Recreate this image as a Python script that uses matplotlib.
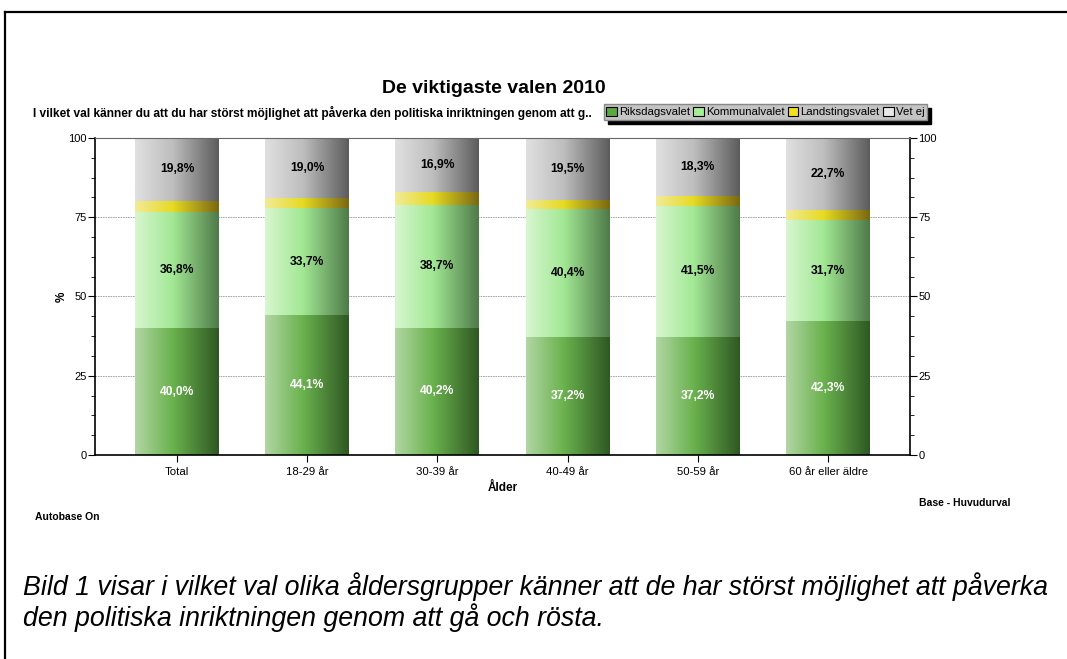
import numpy as np
import matplotlib.pyplot as plt
from matplotlib.colors import LinearSegmentedColormap
from matplotlib.patches import Patch
from matplotlib.lines import Line2D
from matplotlib.ticker import MultipleLocator

plt.rcParams['font.family'] = ['Liberation Sans', 'DejaVu Sans']

# data
categories = ['Total', '18-29 år', '30-39 år', '40-49 år', '50-59 år', '60 år eller äldre']
riksdag = [40.0, 44.1, 40.2, 37.2, 37.2, 42.3]
kommun = [36.8, 33.7, 38.7, 40.4, 41.5, 31.7]
landsting = [3.4, 3.2, 4.2, 2.9, 3.0, 3.3]
vet_ej = [19.8, 19.0, 16.9, 19.5, 18.3, 22.7]

series = [
    ('Riksdagsvalet', riksdag, ['#b2d6a4', '#6ab24e', '#2f5823'], '#5aa83e', 'white', True),
    ('Kommunalvalet', kommun, ['#d8f6d0', '#a2e894', '#4e7a48'], '#a6ee98', 'black', True),
    ('Landstingsvalet', landsting, ['#f2eb98', '#e6da22', '#7a6812'], '#f0e020', 'black', False),
    ('Vet ej', vet_ej, ['#e0e0e0', '#bebebe', '#5c5c5c'], '#e8e8e8', 'black', True),
]

fig = plt.figure(figsize=(10.67, 6.59), dpi=100)
ax = fig.add_axes([0.089, 0.3096, 0.764, 0.481])

x = np.arange(len(categories))
width = 0.645
bottom = np.zeros(len(categories))
grad = np.linspace(0, 1, 256).reshape(1, -1)

for name, vals, stops, legcol, txtcol, show in series:
    vals = np.array(vals)
    bars = ax.bar(x, vals, width, bottom=bottom, color='none', edgecolor='none', zorder=2)
    cmap = LinearSegmentedColormap.from_list(name, [(0, stops[0]), (0.45, stops[1]), (1, stops[2])])
    for b, v in zip(bars, vals):
        x0, y0 = b.get_x(), b.get_y()
        ax.imshow(grad, cmap=cmap, aspect='auto', zorder=2,
                  extent=(x0, x0 + b.get_width(), y0, y0 + b.get_height()))
        if show:
            ax.text(x0 + b.get_width() / 2, y0 + b.get_height() / 2, f'{v:.1f}%'.replace('.', ','),
                    ha='center', va='center', fontsize=8.7, fontweight='bold', color=txtcol, zorder=3)
    bottom += vals

ax.set_xlim(-0.63, len(categories) - 1 + 0.63)
ax.set_ylim(0, 100)
ax.set_xticks(x)
ax.set_xticklabels(categories, fontsize=8.2)
ax.yaxis.set_major_locator(MultipleLocator(25))
ax.yaxis.set_minor_locator(MultipleLocator(6.25))
ax.tick_params(axis='y', which='both', left=True, right=True, labelleft=True, labelright=True,
               labelsize=8, direction='out', pad=1)
ax.tick_params(axis='y', which='major', length=5)
ax.tick_params(axis='y', which='minor', length=3)
ax.tick_params(axis='x', length=5, labelsize=8.2)
ax.grid(axis='y', color='#999999', linestyle=(0, (2, 1)), linewidth=0.6, zorder=1)
ax.set_axisbelow(True)
ax.spines['top'].set_color('#666666')
ax.spines['top'].set_linewidth(0.8)
for s in ['left', 'right', 'bottom']:
    ax.spines[s].set_linewidth(1.2)

ax.set_ylabel('%', fontsize=8.5, fontweight='bold', labelpad=0)
ax.set_xlabel('Ålder', fontsize=8.5, fontweight='bold', labelpad=4)

fig.text(0.463, 0.859, 'De viktigaste valen 2010', ha='center', va='baseline',
         fontsize=14, fontweight='bold')
fig.text(0.031, 0.8225, 'I vilket val känner du att du har störst möjlighet att påverka den politiska inriktningen genom att g..',
         ha='left', va='baseline', fontsize=8.6, fontweight='bold')

handles = [Patch(facecolor=s[3], edgecolor='black', linewidth=0.8, label=s[0]) for s in series]
leg = fig.legend(handles=handles, loc='upper left', bbox_to_anchor=(0.566, 0.842), ncol=4,
                 fontsize=8.2, frameon=True, fancybox=False, handlelength=0.9, handleheight=0.9,
                 handletextpad=0.2, columnspacing=0.3, borderpad=0.22, borderaxespad=0,
                 shadow={'facecolor': 'black', 'edgecolor': 'black', 'alpha': 1, 'ox': 3, 'oy': -3})
leg.get_frame().set_facecolor('#c4c4c4')
leg.get_frame().set_edgecolor('#888888')
leg.get_frame().set_alpha(1)

fig.text(0.033, 0.215, 'Autobase On', ha='left', va='center', fontsize=7.5, fontweight='bold')
fig.text(0.947, 0.236, 'Base - Huvudurval', ha='right', va='center', fontsize=7.5, fontweight='bold')

fig.text(0.022, 0.0865,
         'Bild 1 visar i vilket val olika åldersgrupper känner att de har störst möjlighet att påverka\n'
         'den politiska inriktningen genom att gå och rösta.',
         ha='left', va='center', fontsize=19.3, style='italic', linespacing=1.12)

# outer frame
fig.add_artist(Line2D([0.005, 0.005], [0, 0.982], transform=fig.transFigure, color='black', lw=1.6))
fig.add_artist(Line2D([0.005, 1.0], [0.982, 0.982], transform=fig.transFigure, color='black', lw=1.6))

fig.savefig('out.png', dpi=100)
